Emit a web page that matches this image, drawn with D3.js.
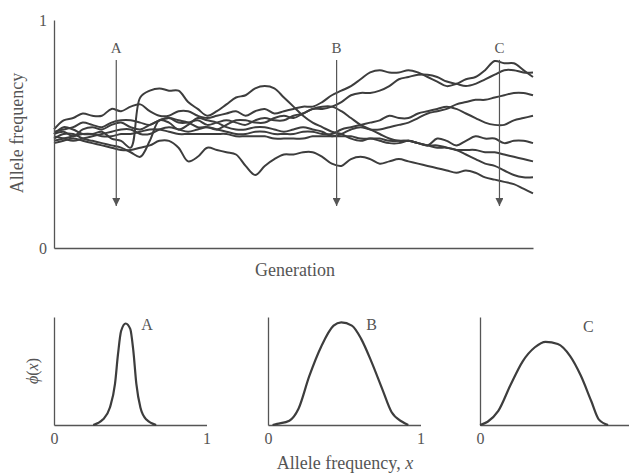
<!DOCTYPE html>
<html>
<head>
<meta charset="utf-8">
<script src="https://cdn.jsdelivr.net/npm/d3@7"></script>
<style>
  body { margin: 0; background: #fff; }
  svg { display: block; font-family: "Liberation Serif", "Times New Roman", serif; }
  .axis text { font-family: "Liberation Serif", "Times New Roman", serif; font-size: 16px; fill: #555; }
  .axis path { stroke: #555; stroke-width: 1.3; }
  .drift { fill: none; stroke: #3d3d3d; stroke-width: 2; stroke-linejoin: round; }
  .phi { fill: none; stroke: #3d3d3d; stroke-width: 2.2; }
  .arrow { stroke: #555; stroke-width: 1.2; }
  .title { font-size: 18px; fill: #555; }
  .tag { font-size: 15px; fill: #555; }
</style>
</head>
<body>
<svg id="chart" width="629" height="475"></svg>
<script>
// 세대 (x축)
const generations = [0, 2, 4, 6, 8, 10, 12, 14, 16, 18, 20, 22, 24, 26, 28, 30, 32, 34, 36, 38,
  40, 42, 44, 46, 48, 50, 52, 54, 56, 58, 60, 62, 64, 66, 68, 70, 72, 74, 76, 78,
  80, 82, 84, 86, 88, 90, 92, 94, 96, 98, 100];

// 집단별 대립유전자 빈도
const pop1 = [.50,.53,.52,.50,.50,.51,.48,.47,.44,.66,.69,.70,.69,.69,.64,.61,.58,.60,.63,.66,
  .67,.70,.71,.70,.66,.62,.58,.55,.53,.51,.50,.48,.47,.48,.47,.46,.46,.47,.46,.45,
  .48,.47,.45,.47,.49,.48,.48,.46,.47,.47,.46];
const pop2 = [.52,.56,.57,.59,.58,.58,.61,.60,.62,.63,.60,.58,.58,.60,.60,.58,.57,.58,.59,.60,
  .58,.60,.61,.59,.60,.61,.62,.62,.64,.67,.69,.71,.74,.77,.78,.77,.77,.78,.77,.75,
  .73,.71,.72,.74,.75,.78,.82,.81,.81,.78,.75];
const pop3 = [.50,.51,.49,.52,.53,.52,.54,.55,.53,.52,.54,.56,.57,.56,.55,.53,.53,.52,.54,.56,
  .56,.55,.55,.57,.58,.57,.59,.61,.61,.62,.64,.67,.68,.68,.69,.71,.74,.75,.76,.76,
  .75,.73,.72,.71,.72,.74,.76,.78,.78,.77,.77];
const pop4 = [.48,.50,.50,.48,.47,.46,.45,.44,.42,.40,.47,.56,.55,.52,.54,.57,.56,.55,.53,.52,
  .52,.53,.53,.52,.51,.52,.53,.52,.51,.49,.50,.52,.53,.52,.52,.53,.54,.55,.57,.59,
  .60,.61,.63,.64,.65,.65,.66,.67,.68,.68,.67];
const pop5 = [.49,.48,.47,.48,.49,.50,.51,.52,.52,.50,.50,.52,.53,.52,.51,.52,.53,.52,.51,.50,
  .50,.51,.51,.50,.50,.50,.51,.51,.50,.50,.52,.53,.54,.55,.56,.58,.57,.57,.59,.60,
  .61,.62,.61,.59,.57,.55,.54,.54,.56,.57,.58];
const pop6 = [.51,.52,.53,.55,.54,.53,.55,.56,.56,.55,.54,.56,.57,.55,.55,.56,.54,.55,.56,.55,
  .54,.56,.57,.56,.56,.58,.59,.61,.62,.62,.60,.57,.54,.52,.50,.48,.47,.47,.46,.45,
  .44,.44,.43,.43,.43,.42,.42,.41,.40,.39,.38];
const pop7 = [.46,.47,.48,.47,.46,.45,.44,.43,.43,.44,.45,.47,.47,.44,.38,.40,.44,.43,.42,.41,
  .36,.32,.36,.39,.41,.41,.42,.42,.40,.37,.36,.39,.40,.39,.37,.38,.39,.38,.37,.36,
  .35,.34,.33,.34,.33,.31,.30,.29,.28,.26,.24];
const pop8 = [.47,.48,.49,.50,.50,.49,.49,.50,.50,.51,.52,.52,.51,.50,.50,.50,.50,.50,.50,.49,
  .49,.49,.49,.48,.48,.48,.48,.49,.49,.49,.49,.49,.48,.48,.48,.47,.47,.47,.46,.45,
  .45,.44,.43,.41,.39,.37,.36,.34,.32,.31,.31];
const pops = [pop1, pop2, pop3, pop4, pop5, pop6, pop7, pop8];

// 분포를 본 시점
const snapGens = [13, 59, 93];
const snapNames = ["A", "B", "C"];

// 아래 분포 곡선 φ(x)
const xA = [0.257, 0.32, 0.366, 0.40, 0.42, 0.44, 0.47, 0.50, 0.52, 0.54, 0.567, 0.606, 0.67];
const phiA = [0, 0.05, 0.16, 0.38, 0.66, 0.87, 0.94, 0.89, 0.69, 0.38, 0.16, 0.05, 0];
const xB = [0.03, 0.06, 0.14, 0.20, 0.27, 0.35, 0.43, 0.48, 0.55, 0.61, 0.68, 0.75, 0.81, 0.88, 0.92];
const phiB = [0, 0.01, 0.04, 0.15, 0.45, 0.73, 0.92, 0.95, 0.92, 0.80, 0.58, 0.33, 0.12, 0.03, 0];
const xC = [0, 0.05, 0.12, 0.20, 0.28, 0.36, 0.43, 0.51, 0.59, 0.66, 0.73, 0.78, 0.84];
const phiC = [0, 0.03, 0.13, 0.37, 0.59, 0.72, 0.77, 0.75, 0.64, 0.46, 0.22, 0.05, 0];

const svg = d3.select("#chart");

/* =========================
   1. 위쪽: 유전적 부동 경로
   ========================= */
const x = d3.scaleLinear().domain([0, 100]).range([54, 533]);
const y = d3.scaleLinear().domain([0, 1]).range([248, 20]);

svg.append("defs").append("marker")
  .attr("id", "head")
  .attr("viewBox", "0 0 10 10")
  .attr("refX", 10).attr("refY", 5)
  .attr("markerUnits", "userSpaceOnUse")
  .attr("markerWidth", 8).attr("markerHeight", 8)
  .attr("orient", "auto")
  .append("path")
  .attr("d", "M0,0L10,5L0,10Z")
  .attr("fill", "#555");

const line = d3.line()
  .x((d, i) => x(generations[i]))
  .y(d => y(d))
  .curve(d3.curveCatmullRom.alpha(0.5));

svg.selectAll("path.drift")
  .data(pops)
  .enter()
  .append("path")
  .attr("class", "drift")
  .attr("d", line);

svg.selectAll("line.arrow")
  .data(snapGens)
  .enter()
  .append("line")
  .attr("class", "arrow")
  .attr("x1", d => x(d)).attr("x2", d => x(d))
  .attr("y1", y(0.825)).attr("y2", y(0.184))
  .attr("marker-end", "url(#head)");

svg.selectAll("text.snap")
  .data(snapGens)
  .enter()
  .append("text")
  .attr("class", "tag")
  .attr("x", d => x(d))
  .attr("y", y(0.88))
  .attr("dy", "0.35em")
  .attr("text-anchor", "middle")
  .text((d, i) => snapNames[i]);

svg.append("g")
  .attr("class", "axis")
  .attr("transform", `translate(${x(0)},0)`)
  .call(d3.axisLeft(y).tickValues([0, 1]).tickFormat(d3.format("d")).tickSize(0).tickPadding(7));

svg.append("g")
  .attr("class", "axis")
  .attr("transform", `translate(0,${y(0)})`)
  .call(d3.axisBottom(x).tickValues([]).tickSizeOuter(0));

svg.append("text")
  .attr("class", "title")
  .attr("transform", "translate(23,133) rotate(-90)")
  .attr("text-anchor", "middle")
  .text("Allele frequency");

svg.append("text")
  .attr("class", "title")
  .attr("x", 295).attr("y", 276)
  .attr("text-anchor", "middle")
  .text("Generation");

/* =========================
   2. 아래쪽: 세 시점의 분포
   ========================= */
// C 패널의 "1"은 그림 밖으로 잘려 있어서 0만 표시
const panels = [
  { left: 54, xs: xA, ys: phiA, name: "A", lx: 0.61, ly: 0.93, ticks: [0, 1] },
  { left: 268, xs: xB, ys: phiB, name: "B", lx: 0.68, ly: 0.93, ticks: [0, 1] },
  { left: 480, xs: xC, ys: phiC, name: "C", lx: 0.71, ly: 0.91, ticks: [0] }
];
const panelW = 152.5;
const py = d3.scaleLinear().domain([0, 1]).range([425, 317]);

panels.forEach(p => {
  const px = d3.scaleLinear().domain([0, 1]).range([p.left, p.left + panelW]);
  const g = svg.append("g");

  g.append("g")
    .attr("class", "axis")
    .attr("transform", `translate(0,${py(0)})`)
    .call(d3.axisBottom(px).tickValues(p.ticks).tickFormat(d3.format("d")).tickSize(0).tickPadding(8));

  g.append("g")
    .attr("class", "axis")
    .attr("transform", `translate(${px(0)},0)`)
    .call(d3.axisLeft(py).tickValues([]).tickSizeOuter(0));

  const curve = d3.line()
    .x((d, i) => px(p.xs[i]))
    .y(d => py(d))
    .curve(d3.curveMonotoneX);

  g.append("path")
    .datum(p.ys)
    .attr("class", "phi")
    .attr("d", curve);

  g.append("text")
    .attr("class", "tag")
    .style("font-size", "16px")
    .attr("x", px(p.lx))
    .attr("y", py(p.ly))
    .attr("dy", "0.35em")
    .attr("text-anchor", "middle")
    .text(p.name);
});

const phiLabel = svg.append("text")
  .attr("class", "title")
  .style("font-size", "16px")
  .attr("transform", "translate(38,371) rotate(-90)")
  .attr("text-anchor", "middle");
phiLabel.append("tspan").style("font-style", "italic").text("ϕ");
phiLabel.append("tspan").text("(");
phiLabel.append("tspan").style("font-style", "italic").text("x");
phiLabel.append("tspan").text(")");

const xTitle = svg.append("text")
  .attr("class", "title")
  .attr("x", 345).attr("y", 469)
  .attr("text-anchor", "middle");
xTitle.append("tspan").text("Allele frequency, ");
xTitle.append("tspan").style("font-style", "italic").text("x");
</script>
</body>
</html>
